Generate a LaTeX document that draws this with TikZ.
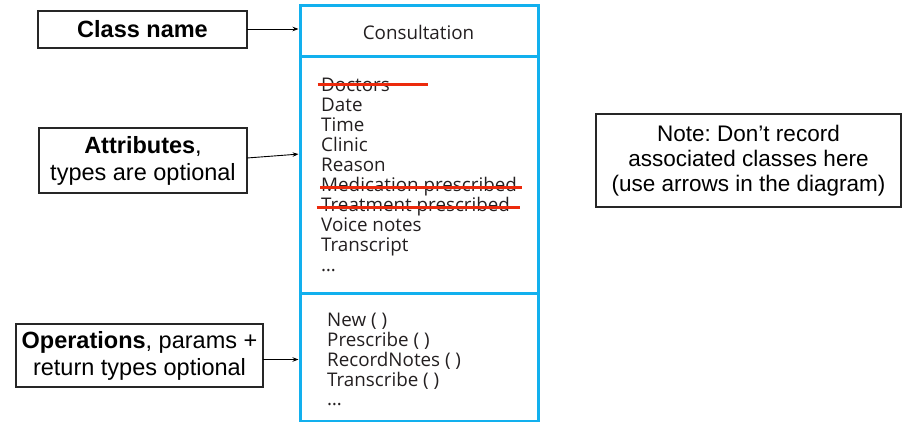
\documentclass[tikz,border=0pt]{standalone}
\usepackage{fontspec}
\setmainfont{Liberation Sans}
\newfontfamily\classfont{Open Sans}
\usetikzlibrary{arrows.meta}
\definecolor{umlblue}{HTML}{12B0EE}
\definecolor{strikered}{HTML}{EC2A0C}
\definecolor{ink}{HTML}{231F20}
\frenchspacing

\tikzset{
  labelbox/.style={draw=black!85, line width=1.1pt, inner sep=0pt, outer sep=0pt,
    align=center, text=black, font=\fontsize{23.5}{27}\selectfont},
  notebox/.style={labelbox, font=\fontsize{22.5}{25}\selectfont},
  compartment/.style={draw=umlblue, line width=3pt, inner sep=0pt, outer sep=0pt,
    minimum width=238pt},
  member/.style={anchor=base west, inner sep=0pt, text=ink,
    font=\classfont\fontsize{18.8}{20}\selectfont},
  pointer/.style={draw=black, line width=0.9pt, shorten >=1.5pt,
    -{Stealth[length=6pt,width=4.5pt]}},
  strikeout/.style={draw=strikered, line width=3pt}
}

\begin{document}
\begin{tikzpicture}[x=1pt,y=-1pt]
  \useasboundingbox (0,0) rectangle (909,422);

  % the class: three stacked compartments
  \node[compartment, minimum height=51.5pt] (cname) at (419,31.25) {};
  \node[compartment, minimum height=236pt]  (cattr) at (419,175) {};
  \node[compartment, minimum height=128pt]  (cops)  at (419,357) {};

  \node[anchor=base, inner sep=0pt, text=ink,
        font=\classfont\fontsize{18.8}{20}\selectfont] (title) at (418.5,40) {Consultation};

  % attributes
  \node[member] (a1)  at (321,91.7)  {Doctors};
  \node[member] (a2)  at (321,111.7) {Date};
  \node[member] (a3)  at (321,131.7) {Time};
  \node[member] (a4)  at (321,151.7) {Clinic};
  \node[member] (a5)  at (321,171.7) {Reason};
  \node[member] (a6)  at (321,191.7) {Medication prescribed};
  \node[member] (a7)  at (321,211.7) {Treatment prescribed};
  \node[member] (a8)  at (321,231.7) {Voice notes};
  \node[member] (a9)  at (321,251.7) {Transcript};
  \node[member] (a10) at (321,271.7) {…};

  % crossed-out attributes
  \draw[strikeout] (317.7,85)   -- (428,85);
  \draw[strikeout] (320,187.3)  -- (521.7,187.3);
  \draw[strikeout] (316.7,207.3) -- (520,207.3);

  % operations
  \node[member] (o1) at (327,326.7) {New ( )};
  \node[member] (o2) at (327,346.5) {Prescribe ( )};
  \node[member] (o3) at (327,366.3) {RecordNotes ( )};
  \node[member] (o4) at (327,386.1) {Transcribe ( )};
  \node[member] (o5) at (327,405.9) {…};

  % explanatory labels
  \node[labelbox, minimum width=209pt, minimum height=37pt] (lclass) at (142.5,29.5)
    {\textbf{Class name}};
  \node[labelbox, minimum width=208pt, minimum height=65pt] (lattr) at (143,160.5)
    {\textbf{Attributes},\\types are optional};
  \node[labelbox, minimum width=247pt, minimum height=63pt] (lops) at (139.5,355.5)
    {\textbf{Operations}, params +\\return types optional};
  \node[notebox, minimum width=305pt, minimum height=93pt] (note) at (748.5,160.5)
    {Note: Don’t record\\associated classes here\\(use arrows in the diagram)};

  % pointers from labels to compartments
  \draw[pointer] ([yshift=0.5pt]lclass.east) -- ([yshift=0.5pt]lclass.east -| cname.west);
  \draw[pointer] ([yshift=2.5pt]lattr.east) -- ([yshift=21pt]cattr.west);
  \draw[pointer] ([yshift=-4pt]lops.east) -- ([yshift=-2.5pt]cops.west);
\end{tikzpicture}
\end{document}
